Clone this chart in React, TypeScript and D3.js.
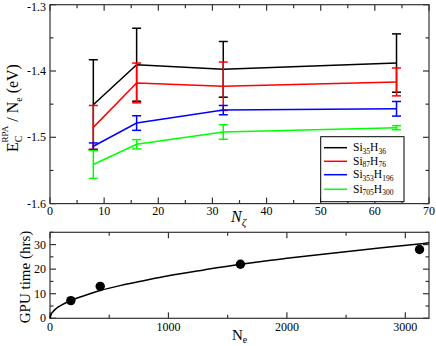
import React from 'react';
import { scaleLinear, line, curveMonotoneX } from 'd3';

// top panel: correlation energy per electron vs N_zeta
const nZeta = [8, 16, 32, 64];
const siCount = ['35', '87', '353', '705'];
const hCount = ['36', '76', '196', '300'];
const seriesColors = ['#000000', '#ff0000', '#0000ff', '#00ff00'];

const energySi35 = [-1.451, -1.3905, -1.3975, -1.388];
const errorSi35 = [0.068, 0.055, 0.042, 0.044];
const energySi87 = [-1.485, -1.418, -1.423, -1.4165];
const errorSi87 = [0.033, 0.030, 0.0365, 0.021];
const energySi353 = [-1.5135, -1.4785, -1.459, -1.457];
const errorSi353 = [0.005, 0.011, 0.007, 0.011];
const energySi705 = [-1.541, -1.5105, -1.492, -1.4855];
const errorSi705 = [0.021, 0.007, 0.011, 0.003];

const topXTicks = [0, 10, 20, 30, 40, 50, 60, 70];
const topYTicks = [-1.6, -1.5, -1.4, -1.3];

// bottom panel: GPU time vs number of electrons
const electrons = [176, 424, 1608, 3120];
const gpuHours = [7.2, 13.0, 22.0, 28.0];
const fitElectrons = [0, 10, 25, 50, 100, 175, 300, 424, 600, 800, 1000, 1300, 1608, 2000, 2400, 2800, 3200];
const fitHours = [0, 1.7, 2.7, 3.9, 5.5, 7.2, 9.4, 11.3, 13.4, 15.4, 17.3, 19.7, 22.0, 24.4, 26.6, 28.7, 30.7];

const botXTicks = [0, 1000, 2000, 3000];
const botYTicks = [0, 10, 20, 30];

const font = '"Liberation Serif", "Times New Roman", serif';
const axisColor = '#333';

const xTop = scaleLinear().domain([0, 70]).range([50, 429]);
const yTop = scaleLinear().domain([-1.6, -1.3]).range([203.6, 4.7]);
const xBot = scaleLinear().domain([0, 3200]).range([50, 429]);
const yBot = scaleLinear().domain([0, 35]).range([318.3, 232.3]);

const series = [
  { values: energySi35, errors: errorSi35 },
  { values: energySi87, errors: errorSi87 },
  { values: energySi353, errors: errorSi353 },
  { values: energySi705, errors: errorSi705 },
];

// box with inward ticks on all four sides (xmgrace look)
function Frame({ x, y, xMinor, yMinor }: any) {
  const [l, r] = x.range();
  const [b, t] = y.range();
  const major = 6;
  const minor = 3.5;
  const marks: any[] = [];
  const xMaj = x.ticks(xMinor / 2);
  x.ticks(xMinor).forEach((v: number, i: number) => {
    const len = xMaj.includes(v) ? major : minor;
    const px = x(v);
    marks.push(<line key={'xb' + i} x1={px} x2={px} y1={b} y2={b - len} />);
    marks.push(<line key={'xt' + i} x1={px} x2={px} y1={t} y2={t + len} />);
  });
  const yMaj = y.ticks(yMinor / 2);
  y.ticks(yMinor).forEach((v: number, i: number) => {
    const len = yMaj.some((m: number) => Math.abs(m - v) < 1e-9) ? major : minor;
    const py = y(v);
    marks.push(<line key={'yl' + i} x1={l} x2={l + len} y1={py} y2={py} />);
    marks.push(<line key={'yr' + i} x1={r} x2={r - len} y1={py} y2={py} />);
  });
  return (
    <g stroke={axisColor} strokeWidth={1.2} fill="none">
      <rect x={l} y={t} width={r - l} height={b - t} />
      {marks}
    </g>
  );
}

export default function App() {
  const dataLine = line<number>()
    .x((_, i) => xTop(nZeta[i]));

  const fitLine = line<number>()
    .x((_, i) => xBot(fitElectrons[i]))
    .y((d) => yBot(d))
    .curve(curveMonotoneX);

  const legendRows = [147.7, 161.3, 174.7, 189.3];

  return (
    <div style={{ position: 'fixed', left: 0, top: 0 }}>
      <svg width={436} height={346} style={{ display: 'block', background: '#fff' }} fontFamily={font}>
        {/* ---- top panel ---- */}
        <Frame x={xTop} y={yTop} xMinor={14} yMinor={6} />
        {series.map((s, si) => (
          <g key={si} stroke={seriesColors[si]} strokeWidth={1.5} fill="none">
            <path d={dataLine.y((d) => yTop(d))(s.values) as string} />
            {s.values.map((v, i) => {
              const px = xTop(nZeta[i]);
              const hi = yTop(v + s.errors[i]);
              const lo = yTop(v - s.errors[i]);
              return (
                <g key={i}>
                  <line x1={px} x2={px} y1={hi} y2={lo} />
                  <line x1={px - 4.5} x2={px + 4.5} y1={hi} y2={hi} />
                  <line x1={px - 4.5} x2={px + 4.5} y1={lo} y2={lo} />
                </g>
              );
            })}
          </g>
        ))}
        {topXTicks.map((v) => (
          <text key={v} x={xTop(v)} y={215} fontSize={12} textAnchor="middle">{v}</text>
        ))}
        {topYTicks.map((v) => (
          <text key={v} x={46} y={Math.max(yTop(v) + 4, 10.5)} fontSize={12} textAnchor="end">{v.toFixed(1)}</text>
        ))}
        <text x={231} y={222} fontSize={16} fontStyle="italic">
          N<tspan fontSize={11} dy={4}>ζ</tspan>
        </text>
        <g transform="translate(18,108) rotate(-90)">
          <text fontSize={16} textAnchor="middle">
            E<tspan fontSize={10} dy={4}>C</tspan>
            <tspan fontSize={9} dx={-7} dy={-14}>RPA</tspan>
            <tspan dy={10}> / N</tspan>
            <tspan fontSize={10} dy={4}>e</tspan>
            <tspan dy={-4}> (eV)</tspan>
          </text>
        </g>

        {/* legend */}
        <rect x={320.7} y={136.7} width={83.3} height={65} fill="#fff" stroke="#000" strokeWidth={1} />
        {legendRows.map((ly, i) => (
          <g key={i}>
            <line x1={324} x2={347} y1={ly} y2={ly} stroke={seriesColors[i]} strokeWidth={1.5} />
            <text x={353} y={ly + 3.5} fontSize={11.5}>
              Si<tspan fontSize={7.5} dy={2.5}>{siCount[i]}</tspan>
              <tspan dy={-2.5}>H</tspan>
              <tspan fontSize={7.5} dy={2.5}>{hCount[i]}</tspan>
            </text>
          </g>
        ))}

        {/* ---- bottom panel ---- */}
        <Frame x={xBot} y={yBot} xMinor={7} yMinor={7} />
        <path d={fitLine(fitHours) as string} stroke="#000" strokeWidth={1.5} fill="none" />
        {electrons.map((n, i) => (
          <circle key={n} cx={xBot(n)} cy={yBot(gpuHours[i])} r={4.7} fill="#000" />
        ))}
        {botXTicks.map((v) => (
          <text key={v} x={xBot(v)} y={331} fontSize={12} textAnchor="middle">{v}</text>
        ))}
        {botYTicks.map((v) => (
          <text key={v} x={46} y={yBot(v) + 4} fontSize={12} textAnchor="end">{v}</text>
        ))}
        <text x={232} y={340} fontSize={15}>
          N<tspan fontSize={10} dy={3}>e</tspan>
        </text>
        <g transform="translate(30,277) rotate(-90)">
          <text fontSize={15} textAnchor="middle">GPU time (hrs)</text>
        </g>
      </svg>
    </div>
  );
}
